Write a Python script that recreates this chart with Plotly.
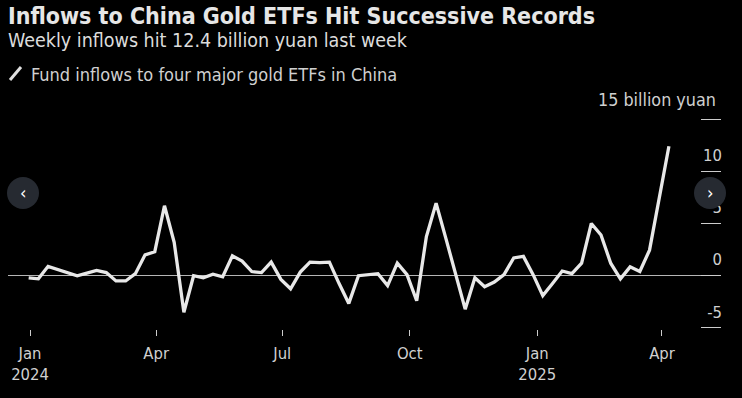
import plotly.graph_objects as go
import pandas as pd

# ---- data ----
start_date = "2023-12-31"
inflows = [
    -0.2, -0.3, 0.9, 0.6, 0.3, 0.0, 0.25, 0.5, 0.3, -0.5,
    -0.5, 0.2, 2.0, 2.3, 6.7, 3.2, -3.5, 0.0, -0.2, 0.15,
    -0.1, 1.9, 1.4, 0.4, 0.3, 1.3, -0.35, -1.25, 0.35, 1.3,
    1.25, 1.3, -0.75, -2.65, 0.0, 0.1, 0.2, -0.95, 1.2, 0.1,
    -2.4, 3.75, 6.95, 3.6, 0.1, -3.2, -0.2, -1.05, -0.6, 0.1,
    1.7, 1.85, 0.1, -1.9, -0.75, 0.45, 0.2, 1.2, 5.0, 3.9,
    1.2, -0.3, 0.85, 0.4, 2.45, 7.5, 12.4,
]
dates = pd.date_range(start_date, periods=len(inflows), freq="7D")

x_tick_vals = ["2024-01-01", "2024-04-01", "2024-07-01", "2024-10-01", "2025-01-01", "2025-04-01"]
x_tick_text = ["Jan<br>2024", "Apr", "Jul", "Oct", "Jan<br>2025", "Apr"]
y_tick_vals = [-5, 0, 5, 10, 15]
y_tick_text = ["-5", "0", "5", "10", ""]
y_unit_value = 15
y_unit_label = "15 billion yuan"

title = "Inflows to China Gold ETFs Hit Successive Records"
subtitle = "Weekly inflows hit 12.4 billion yuan last week"
legend_text = "Fund inflows to four major gold ETFs in China"

# ---- layout geometry ----
W, H = 742, 398
ML, MR, MT, MB = 8, 21, 118, 69
PW, PH = W - ML - MR, H - MT - MB
FONT = "DejaVu Sans Condensed, DejaVu Sans, sans-serif"


def px(x):
    """window pixel x -> paper x"""
    return (x - ML) / PW


def py(y):
    """window pixel y -> paper y"""
    return (H - MB - y) / PH


fig = go.Figure()
fig.add_trace(go.Scatter(
    x=dates, y=inflows, mode="lines",
    line=dict(color="#e8e8e8", width=3.3),
    hoverinfo="skip", showlegend=False,
))

shapes = [
    # legend pen icon
    dict(type="line", xref="paper", yref="paper",
         x0=px(10), y0=py(80), x1=px(21), y1=py(67),
         line=dict(color="#e0e0e0", width=3)),
    # carousel buttons
    dict(type="circle", xref="paper", yref="paper", layer="above",
         x0=px(7), x1=px(39), y0=py(209), y1=py(177),
         fillcolor="#262a31", line=dict(width=0)),
    dict(type="circle", xref="paper", yref="paper", layer="above",
         x0=px(694), x1=px(726), y0=py(209), y1=py(177),
         fillcolor="#262a31", line=dict(width=0)),
]

annotations = [
    dict(text="<b>" + title + "</b>", xref="paper", yref="paper",
         x=px(6), y=py(16), xanchor="left", yanchor="middle", showarrow=False,
         font=dict(family=FONT, size=23, color="#e6e6e6")),
    dict(text=subtitle, xref="paper", yref="paper",
         x=px(6), y=py(41), xanchor="left", yanchor="middle", showarrow=False,
         font=dict(family=FONT, size=19.5, color="#dcdcdc")),
    dict(text=legend_text, xref="paper", yref="paper",
         x=px(29), y=py(74), xanchor="left", yanchor="middle", showarrow=False,
         font=dict(family=FONT, size=18, color="#d0d0d0")),
    dict(text=y_unit_label, xref="paper", yref="y",
         x=px(718), y=y_unit_value, xanchor="right", yanchor="bottom",
         yshift=7, showarrow=False,
         font=dict(family=FONT, size=17.8, color="#d0d0d0")),
    dict(text="‹", xref="paper", yref="paper",
         x=px(23), y=py(192), xanchor="center", yanchor="middle", showarrow=False,
         font=dict(family=FONT, size=18, color="#ffffff")),
    dict(text="›", xref="paper", yref="paper",
         x=px(710), y=py(192), xanchor="center", yanchor="middle", showarrow=False,
         font=dict(family=FONT, size=18, color="#ffffff")),
]

fig.update_layout(
    width=W, height=H,
    margin=dict(l=ML, r=MR, t=MT, b=MB, pad=0, autoexpand=False),
    paper_bgcolor="#000000", plot_bgcolor="#000000",
    font=dict(family=FONT, size=16, color="#d0d0d0"),
    showlegend=False,
    shapes=shapes,
    annotations=annotations,
    xaxis=dict(
        type="date", automargin=False,
        range=["2023-12-16 02:00", "2025-05-13 14:00"],
        tickvals=x_tick_vals, ticktext=x_tick_text,
        ticks="outside", ticklen=6, tickwidth=1, tickcolor="#cccccc",
        ticklabelstandoff=3,
        showgrid=False, zeroline=False, showline=False,
        tickfont=dict(family=FONT, size=16.5, color="#d0d0d0"),
    ),
    yaxis=dict(
        side="right", range=[-5.1, 15.1], automargin=False,
        tickvals=y_tick_vals, ticktext=y_tick_text,
        ticks="inside", ticklen=20, tickwidth=1, tickcolor="#cccccc",
        ticklabelposition="inside top", ticklabeloverflow="allow",
        ticklabelshift=-4, ticklabelstandoff=-4,
        showgrid=False, showline=False,
        zeroline=True, zerolinecolor="#b5b5b5", zerolinewidth=1,
        tickfont=dict(family=FONT, size=16.5, color="#d0d0d0"),
    ),
)

fig.write_html(
    "out.html",
    config={"displayModeBar": False},
    post_script="document.body.style.margin='0';document.body.style.overflow='hidden';",
)
